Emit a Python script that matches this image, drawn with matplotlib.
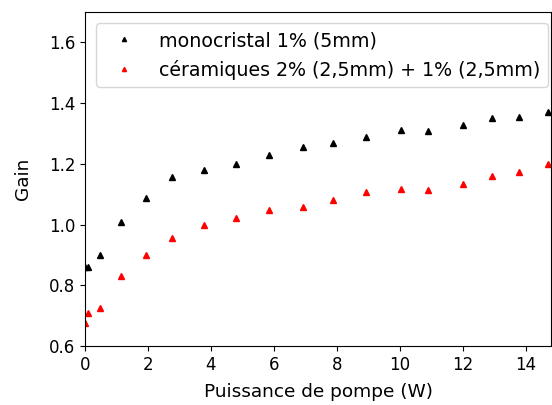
import matplotlib
matplotlib.use("Agg")
import matplotlib.pyplot as plt

x_mono = [0.0, 0.1, 0.48, 1.15, 1.94, 2.77, 3.79, 4.81, 5.83, 6.91, 7.87, 8.92, 10.03, 10.89, 12.0, 12.93, 13.79, 14.71]
y_mono = [0.86, 0.86, 0.90, 1.01, 1.087, 1.156, 1.18, 1.20, 1.23, 1.255, 1.27, 1.287, 1.31, 1.307, 1.327, 1.35, 1.353, 1.37]
x_cer = [0.0, 0.1, 0.48, 1.15, 1.94, 2.77, 3.79, 4.81, 5.83, 6.91, 7.87, 8.92, 10.03, 10.89, 12.0, 12.93, 13.79, 14.71]
y_cer = [0.676, 0.71, 0.725, 0.83, 0.90, 0.955, 0.998, 1.02, 1.047, 1.057, 1.08, 1.107, 1.116, 1.113, 1.133, 1.16, 1.172, 1.20]

fig = plt.figure(figsize=(5.52, 4.05), dpi=100)
ax = fig.add_axes([85/552, 59/405, 466/552, 334/405])
ax.plot(x_mono, y_mono, '^', color='black', markersize=4, linestyle='none', label='monocristal 1% (5mm)')
ax.plot(x_cer, y_cer, '^', color='red', markersize=4, linestyle='none', label='céramiques 2% (2,5mm) + 1% (2,5mm)')
ax.set_xlim(0, 14.8)
ax.set_ylim(0.6, 1.7)
ax.set_xticks([0, 2, 4, 6, 8, 10, 12, 14])
ax.set_yticks([0.6, 0.8, 1.0, 1.2, 1.4, 1.6])
ax.tick_params(labelsize=12)
ax.set_xlabel('Puissance de pompe (W)', fontsize=13.3, labelpad=7)
ax.set_ylabel('Gain', fontsize=13.3, labelpad=12)
ax.legend(loc='upper left', fontsize=13.7, markerscale=0.75, handlelength=2.1,
          borderaxespad=0.6)
fig.savefig('out.png', dpi=100)
